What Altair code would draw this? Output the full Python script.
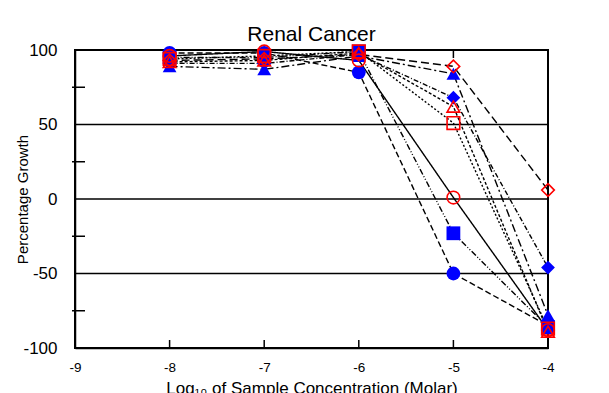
import altair as alt
import pandas as pd

# Data
concs = [-8, -7, -6, -5, -4]
series_names = ["S1", "S2", "S3", "S4", "S5", "S6", "S7", "S8"]
s1 = [98, 98, 85, -50, -85]   # blue filled circle
s2 = [96, 99, 93, 1, -88]     # red open circle
s3 = [95, 95, 99, -23, -86]   # blue filled square
s4 = [94, 96, 99, 51, -87]    # red open square
s5 = [89, 87, 96, 84, -78]    # blue filled triangle
s6 = [92, 93, 98, 62, -89]    # red open triangle
s7 = [91, 91, 97, 68, -46]    # blue filled diamond
s8 = [93, 94, 97, 89, 6]      # red open diamond
all_series = [s1, s2, s3, s4, s5, s6, s7, s8]

shapes = ["circle", "circle", "square", "square", "triangle-up", "triangle-up", "diamond", "diamond"]
filled = [True, False, True, False, True, False, True, False]
dashes = [[6, 3], [1, 0], [6, 2, 1, 2, 1, 2], [2, 2], [8, 3, 2, 3], [3, 2], [5, 2, 1, 2], [8, 4]]

grid_vals = [50, 0, -50]
minor_y = [75, 25, -25, -75]
x_ticks = [-8, -7, -6, -5]
x_labels = [-9, -8, -7, -6, -5, -4]
y_labels = [-100, -50, 0, 50, 100]

chart_title = "Renal Cancer"
x_title = "Log₁₀ of Sample Concentration (Molar)"
y_title = "Percentage Growth"

rows = []
for name, vals, fl in zip(series_names, all_series, filled):
    for c, v in zip(concs, vals):
        rows.append({"conc": c, "growth": v, "series": name, "filled": fl})
df = pd.DataFrame(rows)

FONT = "Liberation Sans"
W, H = 473, 298

xs = alt.Scale(domain=[-9, -4], nice=False, zero=False)
ys = alt.Scale(domain=[-100, 100], nice=False, zero=False)

base = alt.Chart(df)

x_enc = alt.X("conc:Q", scale=xs,
              axis=alt.Axis(values=x_labels, ticks=False, tickSize=0, grid=False,
                            labelFlush=False, labelOverlap=False, labelPadding=12,
                            labelFontSize=13.5, labelExpr="'' + datum.value", labelFont=FONT,
                            title=x_title, titleFontSize=17, titleFontWeight="normal",
                            titleFont=FONT, titleY=32, titleBaseline="top",
                            domainColor="black", domainWidth=1.5, labelColor="black",
                            titleColor="black"))
y_enc = alt.Y("growth:Q", scale=ys,
              axis=alt.Axis(values=y_labels, ticks=False, tickSize=0, grid=False,
                            labelFlush=False, labelOverlap=False, labelPadding=18,
                            labelFontSize=17, labelExpr="'' + datum.value", labelFont=FONT,
                            title=y_title, titleFontSize=15, titleFontWeight="normal",
                            titleFont=FONT, titleX=-53, titleY=H / 2, titleAngle=270,
                            titleBaseline="middle", titleAlign="center",
                            domainColor="black", domainWidth=1.5, labelColor="black",
                            titleColor="black"))

grid = alt.Chart(pd.DataFrame({"g": grid_vals})).mark_rule(color="black", strokeWidth=1.5).encode(
    y=alt.Y("g:Q", scale=ys))

ytick = alt.Chart(pd.DataFrame({"t": minor_y})).mark_rule(color="black", strokeWidth=1.5).encode(
    y=alt.Y("t:Q", scale=ys), x=alt.value(-3), x2=alt.value(10))

xtick_b = alt.Chart(pd.DataFrame({"t": x_ticks})).mark_rule(color="black", strokeWidth=1.5).encode(
    x=alt.X("t:Q", scale=xs), y=alt.value(H - 8), y2=alt.value(H))
xtick_t = alt.Chart(pd.DataFrame({"t": x_ticks})).mark_rule(color="black", strokeWidth=1.5).encode(
    x=alt.X("t:Q", scale=xs), y=alt.value(0), y2=alt.value(8))

title_mark = alt.Chart(pd.DataFrame({"t": [chart_title]})).mark_text(
    font=FONT, fontSize=21, color="black", align="center", baseline="alphabetic").encode(
    text="t:N", x=alt.value(W / 2), y=alt.value(-9))

lines = base.mark_line(color="black", strokeWidth=1.4).encode(
    x=x_enc, y=y_enc,
    strokeDash=alt.StrokeDash("series:N", scale=alt.Scale(domain=series_names, range=dashes), legend=None),
    detail="series:N")

shape_scale = alt.Scale(domain=series_names, range=shapes)

pts_filled = base.transform_filter("datum.filled").mark_point(
    filled=True, color="#0000ff", size=190, opacity=1).encode(
    x=alt.X("conc:Q", scale=xs), y=alt.Y("growth:Q", scale=ys),
    shape=alt.Shape("series:N", scale=shape_scale, legend=None))

pts_open = base.transform_filter("!datum.filled").mark_point(
    filled=False, color="#ff0000", size=160, strokeWidth=1.6, opacity=1).encode(
    x=alt.X("conc:Q", scale=xs), y=alt.Y("growth:Q", scale=ys),
    shape=alt.Shape("series:N", scale=shape_scale, legend=None))

chart = alt.layer(grid, ytick, xtick_b, xtick_t, lines, pts_filled, pts_open, title_mark).properties(
    width=W, height=H,
    background="white",
    autosize=alt.AutoSizeParams(type="none"),
    padding={"left": 67, "top": 42, "right": 45, "bottom": 45},
).configure_view(stroke="black", strokeWidth=2)

chart.save("out.html", embed_options={"renderer": "svg", "actions": False})
